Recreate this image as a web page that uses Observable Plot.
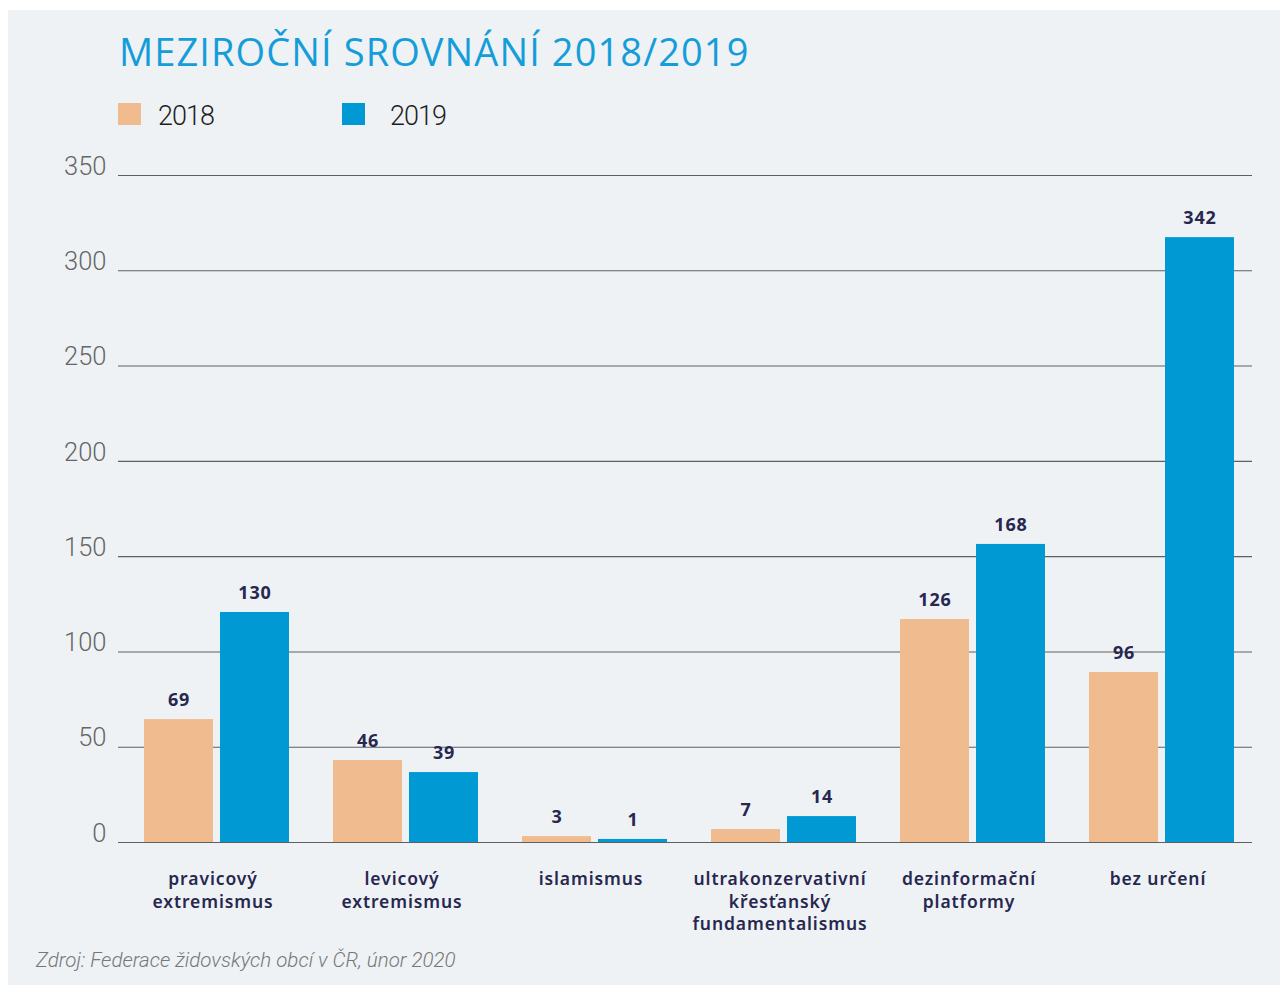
<!DOCTYPE html>
<html>
<head>
<meta charset="utf-8">
<script src="https://cdn.jsdelivr.net/npm/d3@7"></script>
<script src="https://cdn.jsdelivr.net/npm/@observablehq/plot@0.6"></script>
<style>
  html, body { margin:0; padding:0; background:#ffffff; }
  #page { position:relative; width:1280px; height:985px; overflow:hidden; }
  #panel { position:absolute; left:8px; top:10px; width:1272px; height:975px; background:#eef2f5; }
  #title { position:absolute; left:119px; top:32px; font-family:"Open Sans", sans-serif; font-weight:400; font-size:38px; line-height:38px; color:#159dd9; white-space:nowrap; letter-spacing:1.1px; }
  .legend-sw { position:absolute; top:103px; width:23px; height:22px; }
  .legend-tx { position:absolute; top:101px; font-family:Roboto, sans-serif; font-weight:300; font-size:27px; line-height:30px; color:#1e1e1e; letter-spacing:-1px; }
  #caption { position:absolute; left:36px; top:948px; font-family:Roboto, sans-serif; font-style:italic; font-weight:300; font-size:20.5px; line-height:24px; color:#777; white-space:nowrap; }
  #chart { position:absolute; left:0; top:140px; }
  g[aria-label="x-axis tick label"] text { letter-spacing:0.9px; }
  g[aria-label="text"] text { letter-spacing:0.8px; }
</style>
</head>
<body>
<div id="page">
  <div id="panel"></div>
  <div id="title"></div>
  <div id="legend"></div>
  <div id="chart"></div>
  <div id="caption"></div>
</div>
<script>
// ---- data ----
const titleText = "MEZIROČNÍ SROVNÁNÍ 2018/2019";
const captionText = "Zdroj: Federace židovských obcí v ČR, únor 2020";
const years = ["2018", "2019"];
const yearColors = ["#f0bb8e", "#0099d3"];
const categories = ["pravicový extremismus", "levicový extremismus", "islamismus", "ultrakonzervativní křesťanský fundamentalismus", "dezinformační platformy", "bez určení"];
const categoryLabels = ["pravicový\nextremismus", "levicový\nextremismus", "islamismus", "ultrakonzervativní\nkřesťanský\nfundamentalismus", "dezinformační\nplatformy", "bez určení"];
// printed values (labels above bars)
const printed2018 = [69, 46, 3, 7, 126, 96];
const printed2019 = [130, 39, 1, 14, 168, 342];
// bar heights as drawn against the axis in the picture
const bar2018 = [64.5, 43, 3.1, 6.8, 117, 89.2];
const bar2019 = [120.7, 36.7, 1.6, 13.6, 156.4, 317.4];
const yTicks = [0, 50, 100, 150, 200, 250, 300, 350];

// ---- html text ----
document.getElementById("title").textContent = titleText;
document.getElementById("caption").textContent = captionText;
const legend = document.getElementById("legend");
const legendX = [[118, 158], [342, 390]];
years.forEach((y, i) => {
  const sw = document.createElement("div");
  sw.className = "legend-sw";
  sw.style.left = legendX[i][0] + "px";
  sw.style.background = yearColors[i];
  legend.appendChild(sw);
  const tx = document.createElement("div");
  tx.className = "legend-tx";
  tx.style.left = legendX[i][1] + "px";
  tx.textContent = y;
  legend.appendChild(tx);
});

// ---- table ----
const rows18 = categories.map((c, i) => ({category: c, year: "2018", h: bar2018[i], v: printed2018[i]}));
const rows19 = categories.map((c, i) => ({category: c, year: "2019", h: bar2019[i], v: printed2019[i]}));

const labelFont = "'Noto Sans', 'Open Sans', sans-serif";
const navy = "#272750";

const chart = Plot.plot({
  width: 1280,
  height: 800,
  marginLeft: 118,
  marginRight: 28,
  marginTop: 35,
  marginBottom: 98,
  style: {background: "transparent", overflow: "visible"},
  x: {domain: categories, paddingInner: 0.2328, paddingOuter: 0.1164, align: 0.59, label: null},
  y: {domain: [0, 350], label: null},
  marks: [
    Plot.ruleY(yTicks, {stroke: "#5f5f5f", strokeWidth: 1.1}),
    Plot.barY(rows18, {x: "category", y: "h", fill: yearColors[0], insetRight: 76, insetLeft: 0}),
    Plot.barY(rows19, {x: "category", y: "h", fill: yearColors[1], insetLeft: 76, insetRight: 0}),
    Plot.text(rows18, {x: "category", y: "h", text: d => String(d.v), dx: -38, dy: -19, fill: navy, fontSize: 18, fontWeight: 700, fontFamily: labelFont}),
    Plot.text(rows19, {x: "category", y: "h", text: d => String(d.v), dx: 38, dy: -19, fill: navy, fontSize: 18, fontWeight: 700, fontFamily: labelFont}),
    Plot.axisY({ticks: yTicks, tickSize: 0, tickPadding: 12, dy: -9, fontSize: 25.5, fontWeight: 300, fontFamily: "Roboto, sans-serif", fill: "#666666", label: null}),
    Plot.axisX({tickSize: 0, tickPadding: 27, dx: -4, tickFormat: d => categoryLabels[categories.indexOf(d)], fontSize: 17.5, fontWeight: 600, fontFamily: labelFont, fill: navy, lineHeight: 1.28, label: null})
  ]
});
document.getElementById("chart").appendChild(chart);
</script>
</body>
</html>
